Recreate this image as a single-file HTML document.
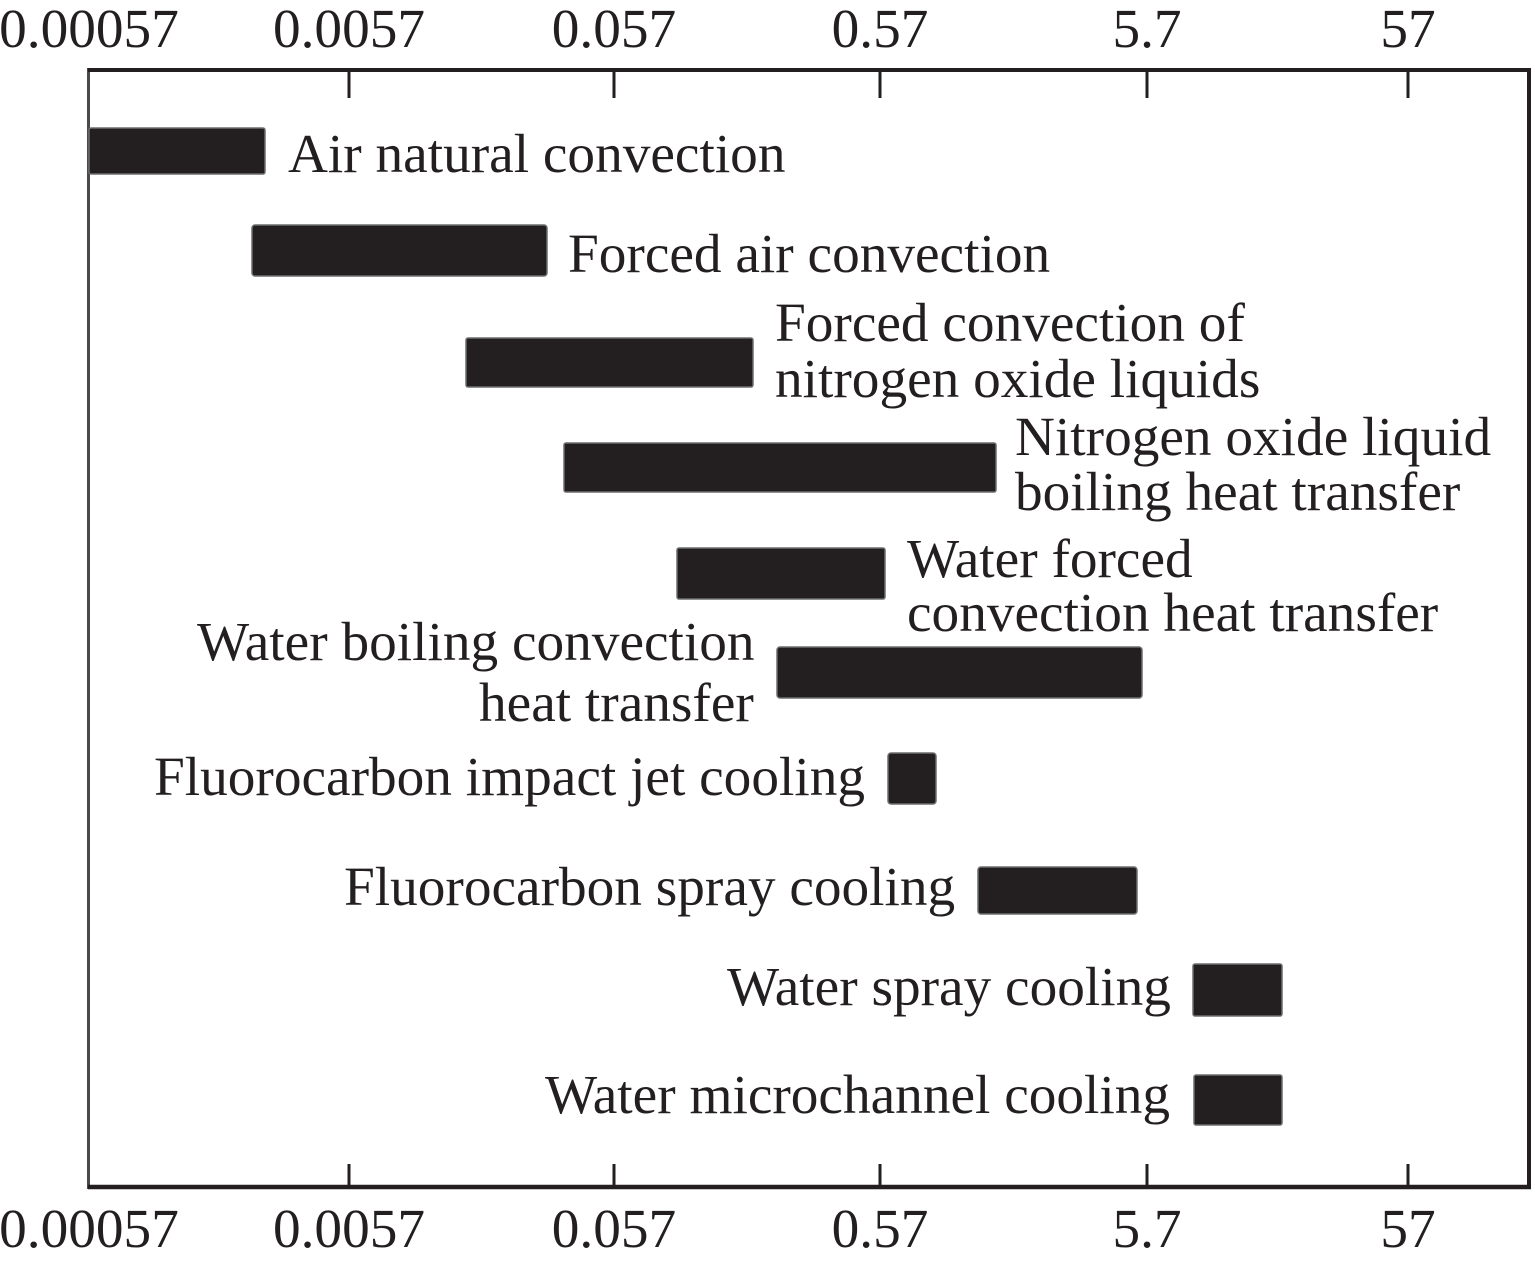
<!DOCTYPE html>
<html>
<head>
<meta charset="utf-8">
<style>
  html, body { margin: 0; padding: 0; background: #ffffff; }
  svg { display: block; }
  text { font-family: "Liberation Serif", "Times New Roman", serif; fill: #231f20; font-size: 55.3px; }
</style>
</head>
<body>
<svg width="1535" height="1265" viewBox="0 0 1535 1265" xmlns="http://www.w3.org/2000/svg">
  <rect x="0" y="0" width="1535" height="1265" fill="#ffffff"/>

  <!-- Axes frame -->
  <line x1="88.5" y1="68" x2="88.5" y2="1189" stroke="#4a4a4a" stroke-width="3"/>
  <line x1="88" y1="70" x2="1531" y2="70" stroke="#231f20" stroke-width="4"/>
  <line x1="88" y1="1187" x2="1531" y2="1187" stroke="#231f20" stroke-width="4.5"/>
  <line x1="1529" y1="68" x2="1529" y2="1189" stroke="#231f20" stroke-width="4"/>

  <!-- Top ticks -->
  <g stroke="#231f20" stroke-width="3">
    <line x1="349" y1="70" x2="349" y2="98"/>
    <line x1="614" y1="70" x2="614" y2="98"/>
    <line x1="880" y1="70" x2="880" y2="98"/>
    <line x1="1147" y1="70" x2="1147" y2="98"/>
    <line x1="1408" y1="70" x2="1408" y2="98"/>
  </g>
  <!-- Bottom ticks -->
  <g stroke="#231f20" stroke-width="3">
    <line x1="349" y1="1164" x2="349" y2="1187"/>
    <line x1="614" y1="1164" x2="614" y2="1187"/>
    <line x1="880" y1="1164" x2="880" y2="1187"/>
    <line x1="1147" y1="1164" x2="1147" y2="1187"/>
    <line x1="1408" y1="1164" x2="1408" y2="1187"/>
  </g>

  <!-- Top tick labels -->
  <g text-anchor="middle" style="font-size:54.5px">
    <text x="89" y="47">0.00057</text>
    <text x="349" y="47">0.0057</text>
    <text x="614" y="47">0.057</text>
    <text x="880" y="47">0.57</text>
    <text x="1147" y="47">5.7</text>
    <text x="1408" y="47">57</text>
  </g>
  <!-- Bottom tick labels -->
  <g text-anchor="middle" style="font-size:54.5px">
    <text x="89" y="1247">0.00057</text>
    <text x="349" y="1247">0.0057</text>
    <text x="614" y="1247">0.057</text>
    <text x="880" y="1247">0.57</text>
    <text x="1147" y="1247">5.7</text>
    <text x="1408" y="1247">57</text>
  </g>

  <!-- Bars -->
  <g fill="#231f20" stroke="#6d6e71" stroke-width="1.5">
    <rect x="89" y="128" width="176" height="46" rx="2"/>
    <rect x="252" y="225" width="295" height="51" rx="3"/>
    <rect x="466" y="338" width="287" height="49" rx="2"/>
    <rect x="564" y="443" width="432" height="49" rx="2"/>
    <rect x="677" y="548" width="208" height="51" rx="2"/>
    <rect x="777" y="647" width="365" height="51" rx="3"/>
    <rect x="888" y="753" width="48" height="51" rx="3"/>
    <rect x="978" y="867" width="159" height="47" rx="3"/>
    <rect x="1193" y="964" width="89" height="52" rx="2"/>
    <rect x="1194" y="1075" width="88" height="50" rx="2"/>
  </g>

  <!-- Labels -->
  <text x="288" y="172">Air natural convection</text>
  <text x="568" y="272">Forced air convection</text>
  <text x="775" y="341">Forced convection of</text>
  <text x="775" y="397">nitrogen oxide liquids</text>
  <text x="1015" y="455">Nitrogen oxide liquid</text>
  <text x="1015" y="510">boiling heat transfer</text>
  <text x="907" y="577">Water forced</text>
  <text x="907" y="631">convection heat transfer</text>
  <text x="197" y="660">Water boiling convection</text>
  <text x="479" y="721">heat transfer</text>
  <text x="154" y="795">Fluorocarbon impact jet cooling</text>
  <text x="344" y="905">Fluorocarbon spray cooling</text>
  <text x="727" y="1005">Water spray cooling</text>
  <text x="545" y="1113">Water microchannel cooling</text>
</svg>
</body>
</html>
